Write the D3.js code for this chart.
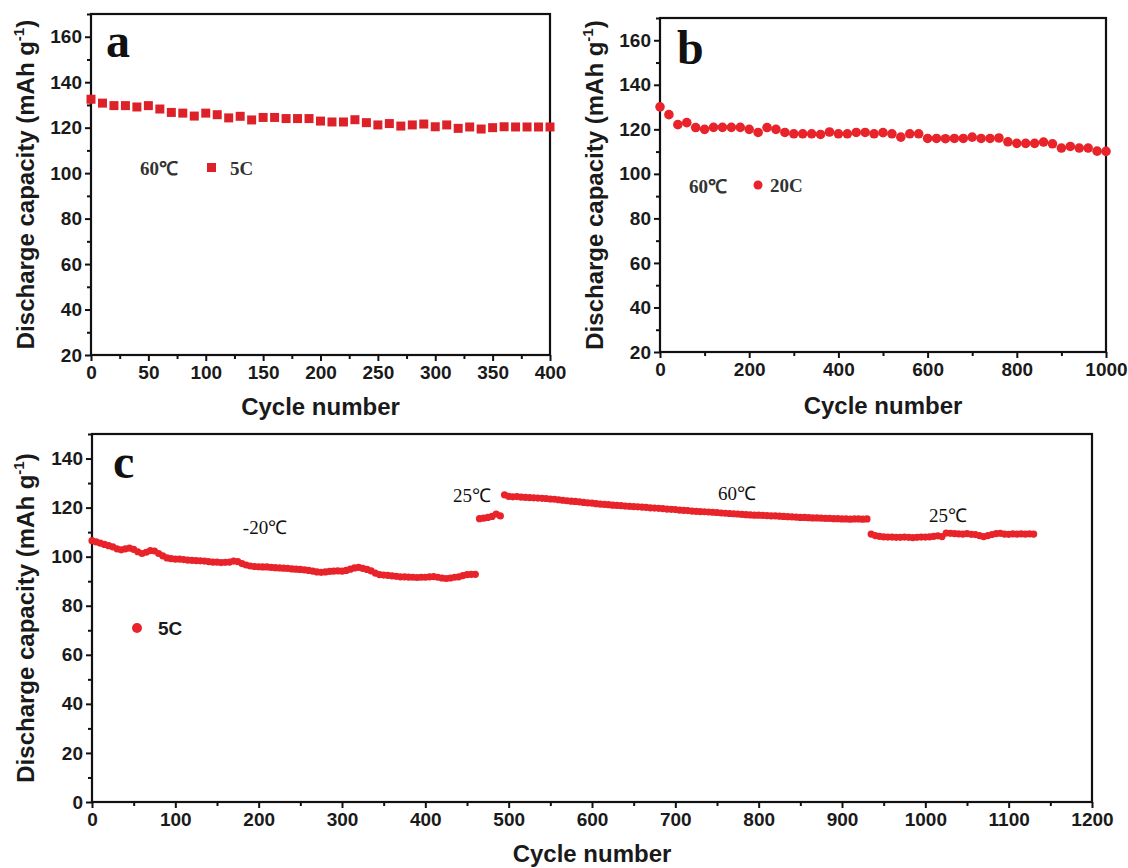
<!DOCTYPE html>
<html>
<head>
<meta charset="utf-8">
<script src="https://cdn.jsdelivr.net/npm/d3@7"></script>
<style>
  body { margin: 0; background: #fff; }
  svg { display: block; }
  .tick text { font-family: "Liberation Sans", Arial, sans-serif; font-weight: bold; fill: #1a1a1a; }
</style>
</head>
<body>
<svg class="svg" width="1128" height="868"></svg>
<script>
// panel a : 60C, 5C rate, one square every 10 cycles
const cyclesA = d3.range(0, 401, 10)
const capA = [132.5, 130.8, 129.7, 129.7, 129.1, 129.7, 128.2, 126.7, 126.4, 125.1,
  126.4, 125.7, 124.3, 125.0, 123.4, 124.5, 124.5, 124.0, 124.0, 124.0,
  122.9, 122.5, 122.5, 123.5, 122.2, 121.2, 121.8, 120.7, 121.2, 121.6,
  120.4, 121.2, 119.7, 120.3, 119.4, 120.0, 120.4, 120.3, 120.3, 120.3, 120.3]

// panel b : 60C, 20C rate, one circle every 20 cycles
const cyclesB = d3.range(0, 1001, 20)
const capB = [130.1, 126.6, 122.1, 123.0, 120.8, 120.0, 120.9, 120.9, 120.9, 120.9,
  120.0, 118.6, 120.8, 120.0, 118.6, 118.0, 118.0, 118.0, 117.7, 118.8,
  118.0, 118.0, 118.6, 118.6, 118.0, 118.5, 118.0, 116.5, 118.0, 118.0,
  115.9, 115.9, 115.8, 115.9, 115.9, 116.5, 115.9, 115.9, 116.1, 114.4,
  113.7, 113.7, 113.7, 114.3, 113.5, 111.6, 112.3, 111.6, 111.6, 110.2, 110.1]

// panel c : 5C rate at changing temperature, read every 5 cycles
const cyclesC1 = d3.range(0, 461, 5)        // -20C
const capC1 = [106.5, 106.0, 105.5, 105.0, 104.5, 104.0, 103.2, 102.8, 103.2, 103.5,
  103.0, 102.0, 101.3, 101.8, 102.5, 102.3, 101.3, 100.3, 99.5, 99.2,
  99.0, 99.0, 98.8, 98.6, 98.5, 98.4, 98.3, 98.2, 98.0, 97.8,
  97.8, 97.6, 97.7, 97.8, 98.2, 98.0, 97.2, 96.6, 96.2, 96.0,
  95.9, 95.8, 95.8, 95.6, 95.5, 95.4, 95.3, 95.2, 95.0, 94.9,
  94.8, 94.6, 94.4, 94.1, 93.8, 93.6, 93.8, 94.0, 94.1, 94.2,
  94.1, 94.4, 94.9, 95.4, 95.6, 95.2, 94.8, 94.2, 93.3, 92.7,
  92.5, 92.4, 92.2, 92.0, 91.8, 91.8, 91.7, 91.6, 91.5, 91.6,
  91.6, 91.8, 91.9, 91.6, 91.3, 91.1, 91.3, 91.6, 91.8, 92.3,
  92.7, 92.8, 92.8]
const cyclesC2 = d3.range(465, 491, 5)      // 25C
const capC2 = [115.5, 115.7, 116.0, 116.4, 117.4, 116.6]
const cyclesC3 = d3.range(495, 931, 5)      // 60C
const capC3 = [125.2, 124.6, 124.4, 124.5, 124.3, 124.2, 124.1, 124.0, 123.9, 123.8,
  123.7, 123.5, 123.4, 123.2, 123.0, 122.8, 122.6, 122.5, 122.3, 122.1,
  121.9, 121.8, 121.6, 121.4, 121.3, 121.2, 121.0, 120.9, 120.8, 120.6,
  120.5, 120.4, 120.3, 120.2, 120.1, 119.9, 119.8, 119.7, 119.6, 119.4,
  119.3, 119.2, 119.0, 118.9, 118.8, 118.6, 118.5, 118.4, 118.3, 118.2,
  118.1, 118.0, 117.8, 117.7, 117.6, 117.5, 117.4, 117.2, 117.1, 117.0,
  116.9, 116.9, 116.8, 116.7, 116.6, 116.6, 116.5, 116.4, 116.3, 116.2,
  116.1, 116.0, 116.0, 115.9, 115.8, 115.8, 115.7, 115.6, 115.6, 115.5,
  115.5, 115.4, 115.4, 115.3, 115.4, 115.4, 115.3, 115.4]
const cyclesC4 = d3.range(935, 1131, 5)     // 25C
const capC4 = [109.2, 108.6, 108.3, 108.1, 108.0, 108.0, 107.9, 107.9, 108.0, 107.9,
  107.8, 107.9, 108.0, 108.0, 108.1, 108.3, 108.5, 108.2, 109.6, 109.5,
  109.4, 109.3, 109.2, 109.4, 109.1, 109.0, 108.6, 108.2, 108.6, 109.0,
  109.4, 109.5, 109.2, 109.1, 109.3, 109.2, 109.3, 109.2, 109.3, 109.2]

const zip = (xs, ys) => xs.map((x, i) => ({ cycle: x, cap: ys[i] }))

const svg = d3.select(".svg")
const red = "#e8232a"

function panel(params) {
  const g = svg.append("g")
  const x = d3.scaleLinear().domain(params.xDomain).range([params.left, params.right])
  const y = d3.scaleLinear().domain(params.yDomain).range([params.bottom, params.top])

  // minor ticks first, then major ticks with labels
  g.append("g")
    .attr("transform", `translate(0,${params.bottom})`)
    .call(d3.axisBottom(x).tickValues(params.xMinor).tickSize(4).tickFormat(""))
  g.append("g")
    .attr("transform", `translate(${params.left},0)`)
    .call(d3.axisLeft(y).tickValues(params.yMinor).tickSize(4).tickFormat(""))

  g.append("g")
    .attr("transform", `translate(0,${params.bottom})`)
    .call(d3.axisBottom(x).tickValues(params.xTicks).tickSize(6).tickPadding(5).tickFormat(d3.format("d")))
    .selectAll("text").attr("font-size", 19)

  g.append("g")
    .attr("transform", `translate(${params.left},0)`)
    .call(d3.axisLeft(y).tickValues(params.yTicks).tickSize(6).tickPadding(3).tickFormat(d3.format("d")))
    .selectAll("text").attr("font-size", 19)

  g.selectAll(".domain").remove()
  g.selectAll(".tick line").attr("stroke", "#111").attr("stroke-width", 2)

  // box
  g.append("rect")
    .attr("x", params.left)
    .attr("y", params.top)
    .attr("width", params.right - params.left)
    .attr("height", params.bottom - params.top)
    .attr("fill", "none")
    .attr("stroke", "#111")
    .attr("stroke-width", 2.2)

  // axis titles
  const yt = g.append("text")
    .attr("transform", `translate(${params.yTitleX},${(params.top + params.bottom) / 2}) rotate(-90)`)
    .attr("text-anchor", "middle")
    .attr("font-family", "Liberation Sans, Arial, sans-serif")
    .attr("font-weight", "bold")
    .attr("font-size", 24)
    .attr("fill", "#1a1a1a")
  yt.append("tspan").text("Discharge capacity (mAh g")
  yt.append("tspan").text("-1").attr("font-size", 15).attr("dy", -10)
  yt.append("tspan").text(")").attr("dy", 10)

  g.append("text")
    .attr("x", (params.left + params.right) / 2)
    .attr("y", params.xTitleY)
    .attr("text-anchor", "middle")
    .attr("font-family", "Liberation Sans, Arial, sans-serif")
    .attr("font-weight", "bold")
    .attr("font-size", 24)
    .attr("fill", "#1a1a1a")
    .text("Cycle number")

  // panel letter
  g.append("text")
    .attr("x", params.letterX)
    .attr("y", params.letterY)
    .attr("font-family", "Liberation Serif, Times New Roman, serif")
    .attr("font-weight", "bold")
    .attr("font-size", 48)
    .attr("fill", "#111")
    .text(params.letter)

  return { g, x, y }
}

const legendText = (g, x, y, txt) => g.append("text")
  .attr("x", x).attr("y", y)
  .attr("font-family", "Liberation Serif, serif").attr("font-weight", "bold")
  .attr("font-size", 19).attr("fill", "#333").text(txt)

// ---------- a ----------
const pa = panel({
  left: 91, right: 550, top: 14, bottom: 355,
  xDomain: [0, 400], yDomain: [20, 170],
  xTicks: d3.range(0, 401, 50), xMinor: d3.range(25, 400, 50),
  yTicks: d3.range(20, 161, 20), yMinor: d3.range(30, 171, 20),
  yTitleX: 34, xTitleY: 415,
  letter: "a", letterX: 106, letterY: 57
})
pa.g.selectAll("rect.pt")
  .data(zip(cyclesA, capA))
  .join("rect")
  .attr("class", "pt")
  .attr("x", d => pa.x(d.cycle) - 4.5)
  .attr("y", d => pa.y(d.cap) - 4.5)
  .attr("width", 9)
  .attr("height", 9)
  .attr("fill", "#dc2129")
legendText(pa.g, 140, 175, "60℃")
pa.g.append("rect").attr("x", 207).attr("y", 163).attr("width", 9).attr("height", 9).attr("fill", "#dc2129")
legendText(pa.g, 230, 175, "5C")

// ---------- b ----------
const pb = panel({
  left: 660, right: 1106, top: 18, bottom: 352,
  xDomain: [0, 1000], yDomain: [20, 170],
  xTicks: d3.range(0, 1001, 200), xMinor: d3.range(100, 1000, 200),
  yTicks: d3.range(20, 161, 20), yMinor: d3.range(30, 171, 20),
  yTitleX: 603, xTitleY: 414,
  letter: "b", letterX: 677, letterY: 64
})
pb.g.selectAll("circle.pt")
  .data(zip(cyclesB, capB))
  .join("circle")
  .attr("class", "pt")
  .attr("cx", d => pb.x(d.cycle))
  .attr("cy", d => pb.y(d.cap))
  .attr("r", 4.8)
  .attr("fill", red)
legendText(pb.g, 689, 193, "60℃")
pb.g.append("circle").attr("cx", 758).attr("cy", 185).attr("r", 4.5).attr("fill", red)
legendText(pb.g, 770, 192, "20C")

// ---------- c ----------
const pc = panel({
  left: 92, right: 1092, top: 434, bottom: 802,
  xDomain: [0, 1200], yDomain: [0, 150],
  xTicks: d3.range(0, 1201, 100), xMinor: d3.range(50, 1200, 100),
  yTicks: d3.range(0, 141, 20), yMinor: d3.range(10, 151, 20),
  yTitleX: 34, xTitleY: 862,
  letter: "c", letterX: 113, letterY: 478
})
const segments = [zip(cyclesC1, capC1), zip(cyclesC2, capC2), zip(cyclesC3, capC3), zip(cyclesC4, capC4)]
pc.g.selectAll("circle.pt")
  .data(segments.flat())
  .join("circle")
  .attr("class", "pt")
  .attr("cx", d => pc.x(d.cycle))
  .attr("cy", d => pc.y(d.cap))
  .attr("r", 3.6)
  .attr("fill", red)

const notes = [
  { text: "-20℃", x: 265, y: 534 },
  { text: "25℃", x: 472, y: 502 },
  { text: "60℃", x: 737, y: 500 },
  { text: "25℃", x: 948, y: 522 }
]
pc.g.selectAll("text.note")
  .data(notes)
  .join("text")
  .attr("class", "note")
  .attr("x", d => d.x)
  .attr("y", d => d.y)
  .attr("text-anchor", "middle")
  .attr("font-family", "Liberation Serif, serif")
  .attr("font-size", 19)
  .attr("fill", "#111")
  .text(d => d.text)

pc.g.append("circle").attr("cx", 137).attr("cy", 628).attr("r", 5).attr("fill", red)
pc.g.append("text").attr("x", 158).attr("y", 635)
  .attr("font-family", "Liberation Sans, Arial, sans-serif").attr("font-weight", "bold")
  .attr("font-size", 19).attr("fill", "#1a1a1a").text("5C")
</script>
</body>
</html>
